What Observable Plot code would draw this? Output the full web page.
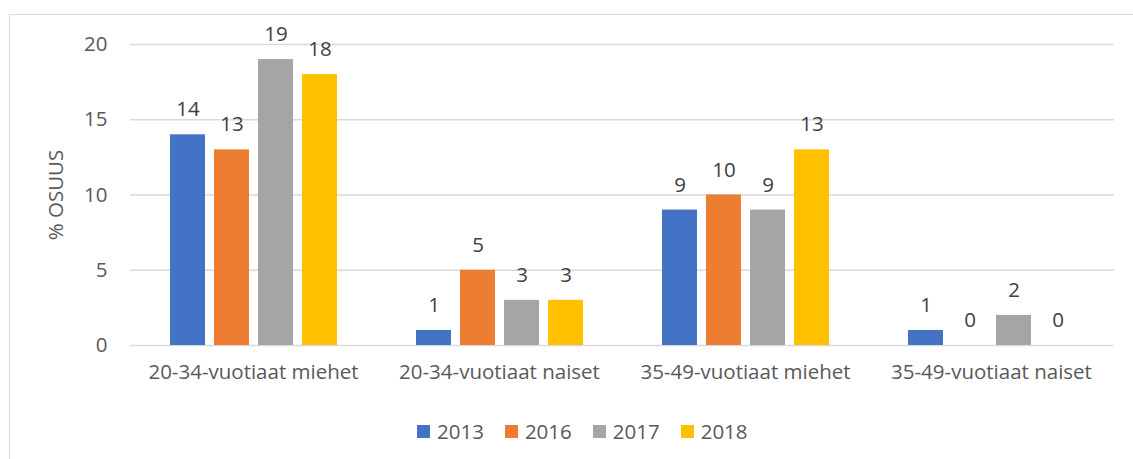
<!DOCTYPE html>
<html>
<head>
<meta charset="utf-8">
<script src="https://cdn.jsdelivr.net/npm/d3@7"></script>
<script src="https://cdn.jsdelivr.net/npm/@observablehq/plot@0.6"></script>
<style>
  html, body { margin: 0; padding: 0; background: #fff; overflow: hidden; }
  #wrap { position: relative; width: 1133px; height: 459px; overflow: hidden; font-family: "Open Sans", sans-serif; }
  #border { position: absolute; left: 9px; top: 14px; width: 1300px; height: 600px; border-top: 1px solid #d9d9d9; border-left: 1px solid #d9d9d9; }
  #chart { position: absolute; left: 0; top: 0; }
  #legend { position: absolute; top: 417px; left: 417px; display: flex; align-items: center; font-size: 20.5px; color: #595959; }
  .item { display: flex; align-items: center; margin-right: 21px; }
  .sw { width: 13px; height: 13px; margin-right: 7px; }
</style>
</head>
<body>
<div id="wrap">
  <div id="border"></div>
  <div id="chart"></div>
  <div id="legend"></div>
</div>
<script>
const categories = ["20-34-vuotiaat miehet", "20-34-vuotiaat naiset", "35-49-vuotiaat miehet", "35-49-vuotiaat naiset"];
const years = ["2013", "2016", "2017", "2018"];
const values2013 = [14, 1, 9, 1];
const values2016 = [13, 5, 10, 0];
const values2017 = [19, 3, 9, 2];
const values2018 = [18, 3, 13, 0];
const colors = ["#4472C4", "#ED7D31", "#A5A5A5", "#FFC000"];
const yTicks = [0, 5, 10, 15, 20];
const yLabel = "% OSUUS";

const series = [values2013, values2016, values2017, values2018];
const data = [];
categories.forEach((c, i) => {
  years.forEach((y, j) => {
    data.push({category: c, year: y, value: series[j][i]});
  });
});

const chart = Plot.plot({
  width: 1133,
  height: 400,
  marginLeft: 130,
  marginRight: 19,
  marginTop: 44,
  marginBottom: 55,
  style: {fontFamily: "'Open Sans', sans-serif", fontSize: "20.5px", color: "#595959", background: "transparent", overflow: "visible"},
  fx: {domain: categories, padding: 0},
  x: {domain: years, paddingInner: 0.213, paddingOuter: 0.865, axis: null},
  y: {domain: [0, 20]},
  color: {domain: years, range: colors},
  marks: [
    Plot.gridY(yTicks, {stroke: "#d9d9d9", strokeOpacity: 1, strokeWidth: 1.5}),
    Plot.barY(data, {fx: "category", x: "year", y: "value", fill: "year"}),
    Plot.text(data, {fx: "category", x: "year", y: "value", text: d => String(d.value), dy: -25, fill: "#404040", fontSize: 20.5}),
    Plot.axisY(yTicks, {tickSize: 0, tickPadding: 23, fontSize: 20.5, label: yLabel, labelAnchor: "center", labelOffset: 82, labelArrow: "none"}),
    Plot.axisFx({anchor: "bottom", tickSize: 0, tickPadding: 19, fontSize: 20.5, label: null})
  ]
});
document.getElementById("chart").appendChild(chart);

const legend = d3.select("#legend");
years.forEach((y, i) => {
  const it = legend.append("div").attr("class", "item");
  it.append("div").attr("class", "sw").style("background", colors[i]);
  it.append("span").text(y);
});
</script>
</body>
</html>
